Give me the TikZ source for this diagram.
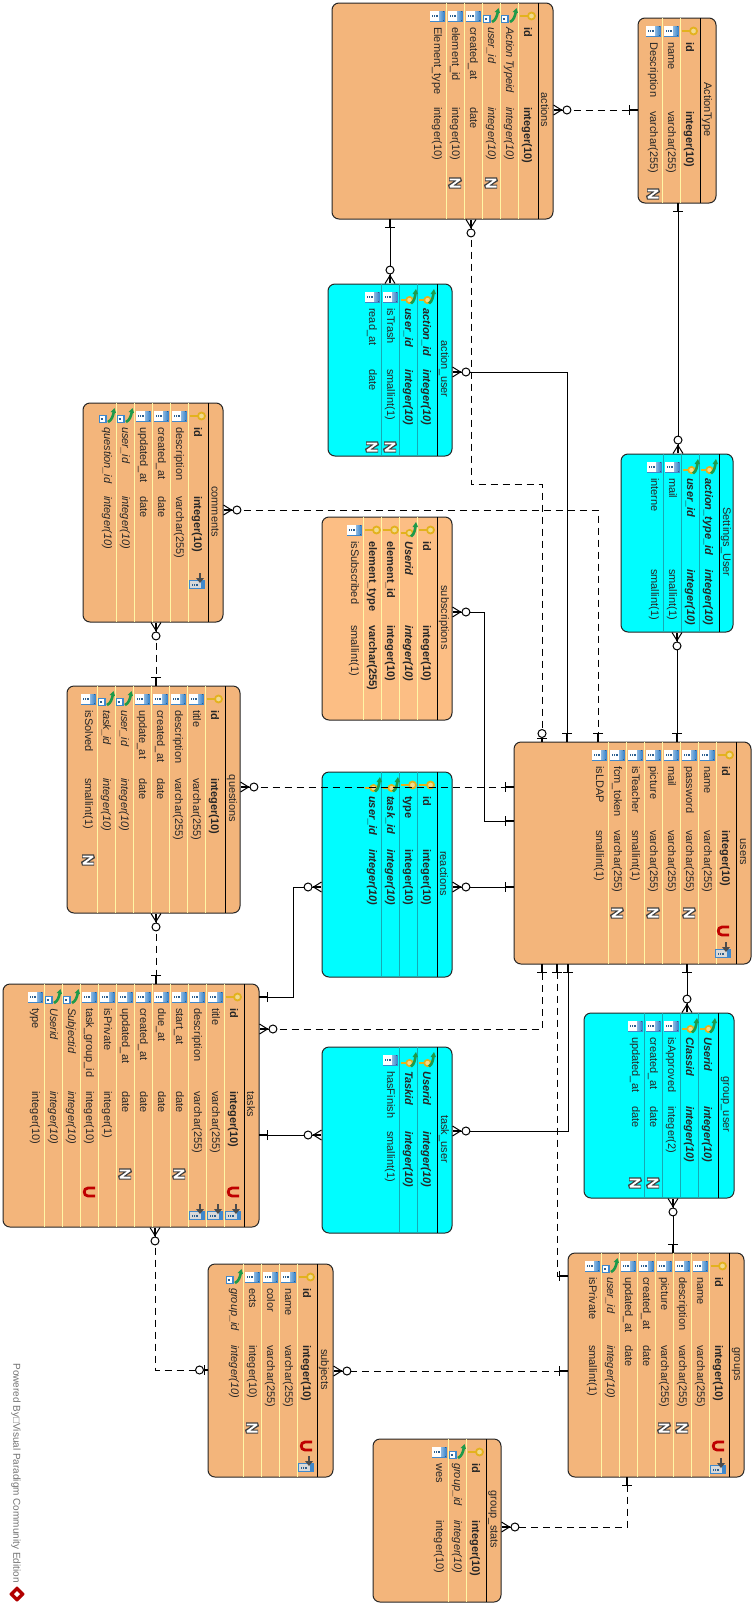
\documentclass[tikz,border=0pt]{standalone}
\usepackage{fontspec}
\setmainfont{Liberation Sans}
\usetikzlibrary{arrows.meta,fit}

\definecolor{entfill}{HTML}{F3B57B}
\definecolor{subfill}{HTML}{FCBE84}
\definecolor{assfill}{HTML}{00FDFF}
\definecolor{entrule}{HTML}{FFF6A6}
\definecolor{assrule}{HTML}{16A9B4}
\definecolor{keygold}{HTML}{E3B21E}
\definecolor{keygreen}{HTML}{1E9A4A}
\definecolor{colblue}{HTML}{3F88CC}

\tikzset{
	onebar/.tip={Bar[width=10pt]Rectangle[length=8pt,width=.9pt]},
	zerobar/.tip={Circle[open,fill=white,length=9pt,width=9pt]Bar[width=10pt]Rectangle[length=3pt,width=.9pt]},
	crow/.tip={Circle[open,fill=white,length=9pt,width=9pt]Rectangle[length=8pt,width=.9pt,sep=-8pt]Straight Barb[reversed,length=8pt,width=10pt]},
	box/.style={draw=black!85,line width=1pt,rounded corners=7pt,inner sep=0pt,outer sep=0pt},
	ent/.style={box,fill=entfill},
	sub/.style={box,fill=subfill},
	ass/.style={box,fill=assfill},
	entline/.style={entrule,line width=.8pt},
	subline/.style={entrule,line width=.8pt},
	assline/.style={assrule,line width=.8pt},
	titlebar/.style={black,line width=1pt},
	enttitle/.style={rotate=-90,font=\fontsize{11}{13}\selectfont,text=black!85,inner sep=0pt},
	rown/.style={rotate=-90,inner sep=0pt,text=black!85,text height=8pt,text depth=2pt,font=\fontsize{11}{13}\selectfont},
	rowb/.style={rown,font=\fontsize{11}{13}\selectfont\bfseries},
	rowi/.style={rown,font=\fontsize{11}{13}\selectfont\itshape},
	rowbi/.style={rown,font=\fontsize{11}{13}\selectfont\bfseries\itshape},
	rel/.style={black,line width=1pt},
	dep/.style={rel,dash pattern=on 7pt off 5pt},
	iccol/.pic={
		\fill[colblue] (-7.5,-5.5) rectangle (7.5,5.5);
		\fill[white] (-6.7,-4.7) rectangle (2,4.7);
		\fill[left color=colblue!60,right color=colblue,draw=none] (2,-4.7) rectangle (6.7,4.7);
		\draw[colblue!70!black,line width=2.4pt,dash pattern=on 1pt off .8pt] (-5,0) -- (1,0);
	},
	ickey/.pic={
		\draw[keygold,line width=2.2pt] (-7.5,0) -- (3,0);
		\draw[keygold,line width=1.8pt,fill=keygold!50] (4.5,0) circle (3.5pt);
	},
	icfk/.pic={
		\fill[colblue] (-8,-1) rectangle (0,7);
		\fill[white] (-7.2,-.2) rectangle (-2.5,6.2);
		\draw[colblue!70!black,line width=1.6pt,dash pattern=on 1pt off .8pt] (-6.5,3) -- (-3,3);
		\draw[keygreen,line width=2.6pt] (1,6) .. controls (5,4) and (6,0) .. (7,-5);
		\fill[keygreen] (3.5,-4) -- (7.5,-8) -- (9,-3) -- cycle;
	},
	icpf/.pic={
		\draw[keygold,line width=2.2pt] (-7.5,3) -- (0,3);
		\draw[keygold,line width=1.6pt,fill=keygold!50] (1.5,3) circle (3.2pt);
		\draw[keygreen,line width=2.6pt] (3,6.5) .. controls (6.5,4) and (7,0) .. (7.5,-4);
		\fill[keygreen] (4.5,-3) -- (8,-8) -- (10,-3) -- cycle;
	},
	icnull/.pic={
		\draw[black!75,line width=4pt,miter limit=2] (-6,-3.6) -- (6,-3.6) -- (-6,3.6) -- (6,3.6);
		\draw[white,line width=1.8pt,miter limit=2] (-5.5,-3.6) -- (5,-3.6) -- (-5,3.6) -- (5.5,3.6);
	},
	icuniq/.pic={
		\draw[red!75!black,line width=2.8pt] (6,-4) -- (-1,-4) .. controls (-6,-4) and (-6,4) .. (-1,4) -- (6,4);
	},
	icindex/.pic={
		\fill[colblue] (-8,-1) rectangle (8,8);
		\fill[black!15] (-7,0) rectangle (4,7);
		\draw[colblue!70!black,line width=2pt,dash pattern=on 1pt off .8pt] (-5,3.5) -- (1,3.5);
		\draw[black!70,line width=2.2pt] (3,-8) -- (3,-2);
		\fill[black!70] (-1,-3) -- (7,-3) -- (3,2) -- cycle;
	},
}

\newcommand{\entity}[8][ent]{
	\node[#1,fit={(#3) (#4)}] (#2) {};
	\draw[titlebar] (#5,0 |- #2.north) -- (#5,0 |- #2.south);
	\coordinate (#2_mid) at (#5+7,0 |- #2.center);
	\node[enttitle] (#2_title) at ([yshift=1pt]#2_mid) {#7};
	\foreach \icon/\fnt/\nm/\tp [count=\i] in {#8}{
		\pgfmathsetmacro{\rowx}{#5-11-18*(\i-1)}
		\pgfmathsetmacro{\sepx}{\rowx+9}
		\ifnum\i>1
			\draw[#1line] (\sepx,0 |- #2.north) -- (\sepx,0 |- #2.south);
		\fi
		\coordinate (#2_r\i) at (\rowx,0 |- #2.north);
		\pic at ([yshift=-13pt]#2_r\i) {\icon};
		\node[\fnt,anchor=west] (#2_n\i) at ([yshift=-24pt]#2_r\i) {\nm};
		\node[\fnt,anchor=west] (#2_t\i) at (\rowx,#6) {\tp};
	}
}

\begin{document}
\begin{tikzpicture}[x=1pt,y=-1pt]
	\useasboundingbox[fill=white] (0,0) rectangle (753,1606);

	\entity{actions}{332,3}{553,219}{538}{107}{actions}{
		ickey/rowb/id/integer(10), icfk/rowi/Action Typeid/integer(10), icfk/rowi/user\_id/integer(10),
		iccol/rown/created\_at/date, iccol/rown/element\_id/integer(10), iccol/rown/Element\_type/integer(10)}
	\entity{ActionType}{638,18}{716,203}{700}{111}{ActionType}{
		ickey/rowb/id/integer(10), iccol/rown/name/varchar(255), iccol/rown/Description/varchar(255)}
	\entity[ass]{action_user}{328,284}{452,456}{437}{369}{action\_user}{
		icpf/rowbi/action\_id/integer(10), icpf/rowbi/user\_id/integer(10),
		iccol/rown/isTrash/smallint(1), iccol/rown/read\_at/date}
	\entity[ass]{Settings_User}{621,454}{733,632}{719}{569}{Settings\_User}{
		icpf/rowbi/action\_type\_id/integer(10), icpf/rowbi/user\_id/integer(10),
		iccol/rown/mail/smallint(1), iccol/rown/interne/smallint(1)}
	\entity[sub]{subscriptions}{322,517}{452,720}{437}{625}{subscriptions}{
		ickey/rowb/id/integer(10), icpf/rowbi/Userid/integer(10), ickey/rowb/element\_id/integer(10),
		ickey/rowb/element\_type/varchar(255), iccol/rown/isSubscribed/smallint(1)}
	\entity{comments}{83,403}{223,622}{208}{496}{comments}{
		ickey/rowb/id/integer(10), iccol/rown/description/varchar(255), iccol/rown/created\_at/date,
		iccol/rown/updated\_at/date, icfk/rowi/user\_id/integer(10), icfk/rowi/question\_id/integer(10)}
	\entity{questions}{67,686}{240,913}{225}{778}{questions}{
		ickey/rowb/id/integer(10), iccol/rown/title/varchar(255), iccol/rown/description/varchar(255),
		iccol/rown/created\_at/date, iccol/rown/update\_at/date, icfk/rowi/user\_id/integer(10),
		icfk/rowi/task\_id/integer(10), iccol/rown/isSolved/smallint(1)}
	\entity[ass]{reactions}{322,772}{452,977}{437}{849}{reactions}{
		ickey/rowb/id/integer(10), ickey/rowb/type/integer(10),
		icpf/rowbi/task\_id/integer(10), icpf/rowbi/user\_id/integer(10)}
	\entity{users}{514,742}{751,964}{736}{830}{users}{
		ickey/rowb/id/integer(10), iccol/rown/name/varchar(255), iccol/rown/password/varchar(255),
		iccol/rown/mail/varchar(255), iccol/rown/picture/varchar(255), iccol/rown/isTeacher/smallint(1),
		iccol/rown/fcm\_token/varchar(255), iccol/rown/isLDAP/smallint(1)}
	\entity{tasks}{3,984}{259,1227}{244}{1091}{tasks}{
		ickey/rowb/id/integer(10), iccol/rown/title/varchar(255), iccol/rown/description/varchar(255),
		iccol/rown/start\_at/date, iccol/rown/due\_at/date, iccol/rown/created\_at/date,
		iccol/rown/updated\_at/date, iccol/rown/isPrivate/integer(1), iccol/rown/task\_group\_id/integer(10),
		icfk/rowi/Subjectid/integer(10), icfk/rowi/Userid/integer(10), iccol/rown/type/integer(10)}
	\entity[ass]{task_user}{322,1047}{452,1233}{437}{1131}{task\_user}{
		icpf/rowbi/Userid/integer(10), icpf/rowbi/Taskid/integer(10), iccol/rown/hasFinish/smallint(1)}
	\entity[ass]{group_user}{584,1013}{734,1198}{718}{1106}{group\_user}{
		icpf/rowbi/Userid/integer(10), icpf/rowbi/Classid/integer(10), iccol/rown/isApproved/integer(2),
		iccol/rown/created\_at/date, iccol/rown/updated\_at/date}
	\entity{groups}{568,1253}{744,1477}{729}{1345}{groups}{
		ickey/rowb/id/integer(10), iccol/rown/name/varchar(255), iccol/rown/description/varchar(255),
		iccol/rown/picture/varchar(255), iccol/rown/created\_at/date, iccol/rown/updated\_at/date,
		icfk/rowi/user\_id/integer(10), iccol/rown/isPrivate/smallint(1)}
	\entity{group_stats}{373,1439}{501,1602}{486}{1520}{group\_stats}{
		ickey/rowb/id/integer(10), icfk/rowi/group\_id/integer(10), iccol/rown/wes/integer(10)}
	\entity{subjects}{208,1264}{333,1477}{317}{1345}{subjects}{
		ickey/rowb/id/integer(10), iccol/rown/name/varchar(255), iccol/rown/color/varchar(255),
		iccol/rown/ects/integer(10), icfk/rowi/group\_id/integer(10)}

	\foreach \px/\py in {491/183,455/183,653/194,390/447,372/447,88/860,689/913,653/913,617/913,
		179/1174,125/1174,653/1183,635/1183,682/1428,664/1428,252/1428}
		\pic at (\px,\py) {icnull};
	\foreach \px/\py in {723/931,233/1192,89/1192,718/1446,306/1446}
		\pic at (\px,\py) {icuniq};
	\foreach \px/\py in {723/950,233/1212,215/1212,197/1212,197/581,718/1466,306/1464}
		\pic at (\px,\py) {icindex};

	\draw[dep,{crow}-{onebar}] (actions.east |- 0,110) -- (ActionType.west |- 0,110);
	\draw[rel,{onebar}-{crow}] (actions.south -| 390,0) -- (action_user.north -| 390,0);
	\draw[dep,{crow}-{zerobar}] (actions.south -| 471,0) -- (471,484) -- (542,484) -- (users.north -| 542,0);
	\draw[rel,{onebar}-{crow}] (ActionType.south -| 678,0) -- (Settings_User.north -| 678,0);
	\draw[rel,{crow}-{onebar}] (action_user.east |- 0,372) -- (567,372) -- (users.north -| 567,0);
	\draw[rel,{crow}-{onebar}] (Settings_User.south -| 677,0) -- (users.north -| 677,0);
	\draw[dep,{crow}-{onebar}] (comments.east |- 0,510) -- (598,510) -- (users.north -| 598,0);
	\draw[rel,{crow}-{onebar}] (subscriptions.east |- 0,612) -- (484,612) -- (484,821) -- (users.west |- 0,821);
	\draw[dep,{crow}-{onebar}] (questions.east |- 0,787) -- (users.west |- 0,787);
	\draw[dep,{crow}-{onebar}] (comments.south -| 156,0) -- (questions.north -| 156,0);
	\draw[dep,{crow}-{onebar}] (questions.south -| 156,0) -- (tasks.north -| 156,0);
	\draw[rel,{onebar}-{crow}] (tasks.east |- 0,997) -- (293,997) -- (293,887) -- (reactions.west |- 0,887);
	\draw[rel,{crow}-{onebar}] (reactions.east |- 0,887) -- (users.west |- 0,887);
	\draw[dep,{crow}-{onebar}] (tasks.east |- 0,1029) -- (542,1029) -- (users.south -| 542,0);
	\draw[rel,{onebar}-{crow}] (tasks.east |- 0,1135) -- (task_user.west |- 0,1135);
	\draw[rel,{crow}-{onebar}] (task_user.east |- 0,1131) -- (568,1131) -- (users.south -| 568,0);
	\draw[dep,{onebar}-{onebar}] (users.south -| 557,0) -- (557,1276) -- (groups.west |- 0,1276);
	\draw[rel,{onebar}-{crow}] (users.south -| 687,0) -- (group_user.north -| 687,0);
	\draw[rel,{crow}-{onebar}] (group_user.south -| 673,0) -- (groups.north -| 673,0);
	\draw[dep,{onebar}-{crow}] (groups.west |- 0,1371) -- (subjects.east |- 0,1371);
	\draw[dep,{crow}-{zerobar}] (tasks.south -| 155,0) -- (155,1370) -- (subjects.west |- 0,1370);
	\draw[dep,{onebar}-{crow}] (groups.south -| 627,0) -- (627,1527) -- (group_stats.east |- 0,1527);

	\node[rotate=-90,text=black!55,font=\fontsize{10}{12}\selectfont,inner sep=0pt] (powered) at (16,1473) {Powered By□Visual Paradigm Community Edition};
	\fill[red!70!black,rounded corners=1pt] (9,1594) -- (17,1586) -- (25,1594) -- (17,1602) -- cycle;
	\fill[white] (14,1594) -- (17,1591) -- (20,1594) -- (17,1597) -- cycle;
\end{tikzpicture}
\end{document}
